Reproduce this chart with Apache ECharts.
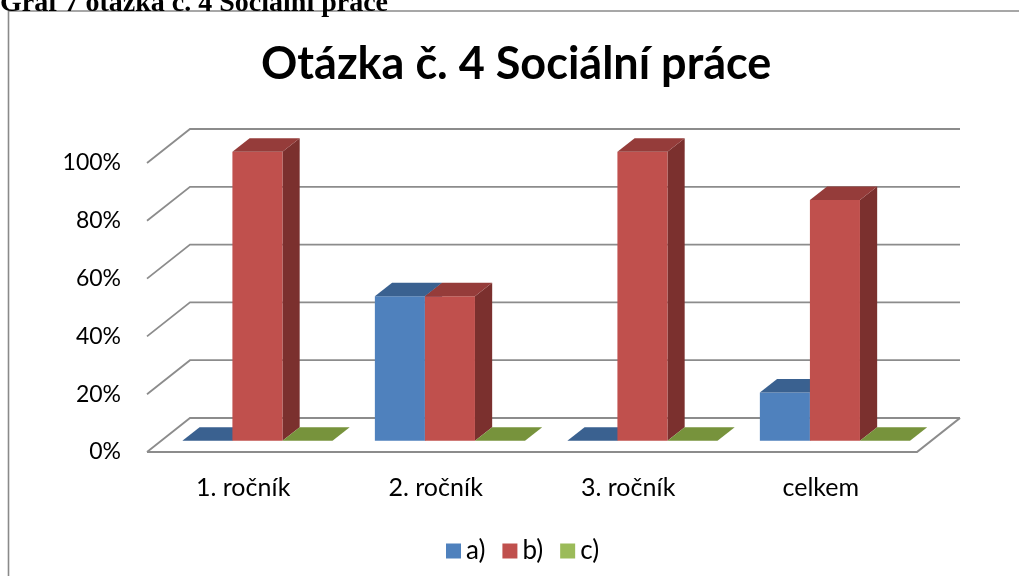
<!DOCTYPE html>
<html><head><meta charset="utf-8">
<script src="https://cdn.jsdelivr.net/npm/echarts@6.0.0/dist/echarts.min.js"></script>
<style>html,body{margin:0;padding:0;background:#fff}#c{width:1019px;height:576px}</style>
</head><body><div id="c"></div>
<script>
const categories = ['1. ročník', '2. ročník', '3. ročník', 'celkem'];
const seriesNames = ['a)', 'b)', 'c)'];
const valuesA = [0, 50, 0, 16.7];
const valuesB = [100, 50, 100, 83.3];
const valuesC = [0, 0, 0, 0];
const yTicks = [0, 20, 40, 60, 80, 100];

const FONT = 'Lato';
const DX = 43, DY = 34;          // wall depth offset (px)
const D0 = 0.33, D1 = 0.73;      // bar front/back depth fractions
const BAR_FRAC = 0.26;           // bar width as fraction of band

const palette = [
  {front: '#4F81BD', top: '#3A6190', side: '#385C88'},
  {front: '#C0504D', top: '#953C3A', side: '#7B302E'},
  {front: '#9BBB59', top: '#77933C', side: '#6A8434'}
];

function gridRender(params, api) {
  const v = api.value(1);
  const y = api.coord([0, v])[1];
  const cs = params.coordSys;
  const x0 = cs.x, x1 = cs.x + cs.width;
  const st = {stroke: '#8C8C8C', lineWidth: 1.8, fill: null};
  const children = [{
    type: 'polyline',
    shape: {points: [[x0, y], [x0 + DX, y - DY], [x1 + DX, y - DY]]},
    style: st
  }];
  if (v === 0) {
    children.push({
      type: 'polyline',
      shape: {points: [[x0, y], [x1, y], [x1 + DX, y - DY]]},
      style: {stroke: '#8C8C8C', lineWidth: 2.2, fill: null}
    });
  }
  return {type: 'group', children};
}

function makeBarSeries(k, values) {
  const col = palette[k];
  return {
    name: seriesNames[k],
    type: 'custom',
    itemStyle: {color: col.front},
    data: values.map((v, i) => [i, v]),
    renderItem: function (params, api) {
      const ci = api.value(0), val = api.value(1);
      const band = api.size([1, 0])[0];
      const w = band * BAR_FRAC;
      const cx = api.coord([ci, 0])[0] + (k - 1) * w;
      const yb = api.coord([ci, 0])[1];
      const yt = api.coord([ci, val])[1];
      const xl = cx - w / 2, xr = cx + w / 2;
      const fx = DX * D0, fy = -DY * D0, bx = DX * D1, by = -DY * D1;
      const children = [];
      if (yb - yt > 0.5) {
        children.push({
          type: 'polygon',
          shape: {points: [[xr + fx, yt + fy], [xr + bx, yt + by], [xr + bx, yb + by], [xr + fx, yb + fy]]},
          style: {fill: col.side}
        });
        children.push({
          type: 'rect',
          shape: {x: xl + fx, y: yt + fy, width: w, height: yb - yt},
          style: {fill: col.front}
        });
      }
      children.push({
        type: 'polygon',
        shape: {points: [[xl + fx, yt + fy], [xr + fx, yt + fy], [xr + bx, yt + by], [xl + bx, yt + by]]},
        style: {fill: col.top}
      });
      return {type: 'group', children};
    }
  };
}

const chart = echarts.init(document.getElementById('c'), null, {renderer: 'canvas'});
chart.setOption({
  animation: false,
  backgroundColor: '#fff',
  title: {
    text: 'Otázka č. 4 Sociální práce',
    left: 256, top: 37,
    textStyle: {fontFamily: FONT, fontWeight: 'bold', fontSize: 45, color: '#000'}
  },
  legend: {
    data: seriesNames,
    top: 533, left: 441,
    icon: 'rect', itemWidth: 15, itemHeight: 15, itemGap: 17,
    textStyle: {fontFamily: FONT, fontSize: 26, color: '#000'}
  },
  grid: {left: 147, right: 102, top: 163, bottom: 124},
  xAxis: {
    type: 'category', data: categories,
    axisLine: {show: false}, axisTick: {show: false}, splitLine: {show: false},
    axisLabel: {fontFamily: FONT, fontSize: 25, color: '#000', margin: 23}
  },
  yAxis: {
    type: 'value', min: 0, max: 100, interval: 20,
    axisLine: {show: false}, axisTick: {show: false}, splitLine: {show: false},
    axisLabel: {fontFamily: FONT, fontSize: 23, color: '#000', margin: 26, formatter: '{value}%'}
  },
  graphic: [
    {type: 'rect', shape: {x: 8.5, y: 11, width: 1100, height: 700},
     style: {fill: null, stroke: '#8A8A8A', lineWidth: 1.6}, z: 100},
    {type: 'text', x: 0, y: 18,
     style: {text: 'Graf 7 otázka č. 4 Sociální práce', font: 'bold 28px "Liberation Serif"',
             fill: '#000', verticalAlign: 'bottom'}, z: 100}
  ],
  series: [
    {type: 'custom', name: 'grid', data: yTicks.map(v => [0, v]), renderItem: gridRender, silent: true, z: 1},
    makeBarSeries(0, valuesA),
    makeBarSeries(1, valuesB),
    makeBarSeries(2, valuesC)
  ]
});
</script>
</body></html>
